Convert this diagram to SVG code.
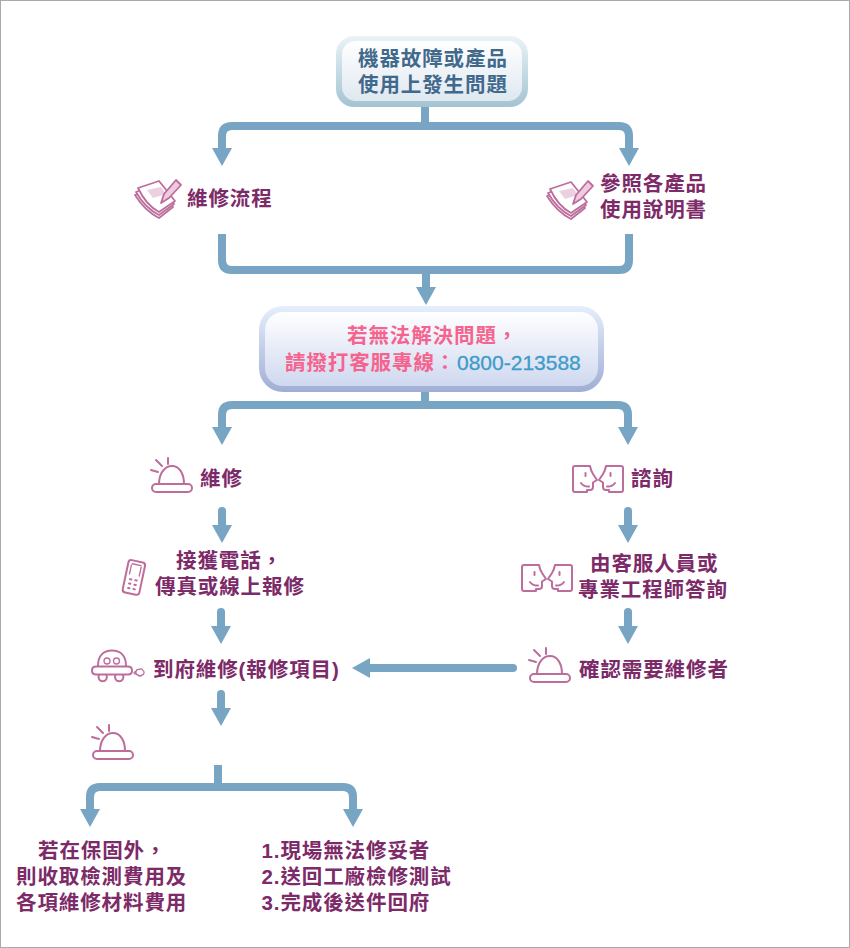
<svg xmlns="http://www.w3.org/2000/svg" xmlns:xlink="http://www.w3.org/1999/xlink" width="850" height="948" viewBox="0 0 850 948">
<style>
text{font-family:"Liberation Sans","Noto Sans CJK TC","Noto Sans CJK SC",sans-serif;font-size:20.500px;font-weight:700;letter-spacing:.9px}
.p{fill:#7d2a69}
.b{fill:#41698c}
.k{fill:#f5648e}
.n{fill:#3d9cc8;font-family:"Liberation Sans",sans-serif;font-size:21px;font-weight:400;letter-spacing:0;stroke:#3d9cc8;stroke-width:.3px}
.c{fill:none;stroke:#77a5c3;stroke-width:8;marker-end:url(#h)}
.l{fill:none;stroke:#77a5c3;stroke-width:8}
.r{stroke-linecap:round}
.i{fill:none;stroke:#bd6d9c;stroke-width:2;stroke-linejoin:round;stroke-linecap:round}
.t{fill:none;stroke:#bd6d9c;stroke-width:1.300;stroke-linejoin:round;stroke-linecap:round}
.f{fill:#fff;stroke:#bd6d9c;stroke-width:1.800;stroke-linejoin:round}
</style>
<defs>
<linearGradient id="g1o" x1="0" y1="0" x2="0" y2="1"><stop offset="0" stop-color="#eaf3f7"/><stop offset="1" stop-color="#a3c3d2"/></linearGradient>
<linearGradient id="g1i" x1="0" y1="0" x2="0" y2="1"><stop offset="0" stop-color="#fff"/><stop offset="1" stop-color="#dfe8f0"/></linearGradient>
<linearGradient id="g2o" x1="0" y1="0" x2="0" y2="1"><stop offset="0" stop-color="#e4eefc"/><stop offset="1" stop-color="#a0aed4"/></linearGradient>
<linearGradient id="g2i" x1="0" y1="0" x2="0" y2="1"><stop offset="0" stop-color="#fff"/><stop offset="1" stop-color="#cfd8f0"/></linearGradient>
<marker id="h" markerUnits="userSpaceOnUse" viewBox="0 -10 18 20" refX="0" refY="0" markerWidth="18" markerHeight="20" orient="auto"><path d="M0-10L18 0L0 10Z" fill="#77a5c3"/></marker>
<g id="bell"><rect class="i" x="1" y="1" width="40" height="8" rx="4"/><path class="i" d="M8 1C8-10 14-17 21-17C28-17 33-10 33 1M17-25V-19M5-23L11-17M0-13L7-11"/></g>
<g id="pad"><path class="f" d="M2 18L27 8L40 30L26 41Q12 34 2 18Z"/><path class="f" d="M3 15L27 6L41 27L26 38Q12 31 3 15Z"/><path class="f" d="M5 11L26 4L42 24L26 35Q13 28 5 11Z"/><path d="M14 13L28 10L33 17L20 21Z" fill="#ecd0e1"/><path class="f" d="M28 26L31 17L43 3L48 8L36 21Z" style="fill:#eecbdf"/></g>
<g id="face"><path class="i" d="M2 0H17Q18 5 20 8L24 14L20 16.500V21Q20 24 17 24H14V26H2Q0 26 0 24V2Q0 0 2 0Z"/><path class="i" d="M12.500 7V10M8 17Q11 21 16 20.500"/></g>
<g id="faces"><use xlink:href="#face" href="#face"/><use xlink:href="#face" href="#face" transform="translate(50 0) scale(-1 1)"/></g>
</defs>
<rect x="0.500" y="0.500" width="849" height="947" fill="#fff" stroke="#aaa"/>
<g id="connectors">
<path class="l" d="M425 107V126"/>
<path class="c" d="M425 126H232Q222 126 222 136V148"/>
<path class="c" d="M425 126H619Q629 126 629 136V148"/>
<path class="l" d="M222 234V260Q222 270 232 270H619Q629 270 629 260V234"/>
<path class="c" d="M426 270V287"/>
<path class="l" d="M425 392V405"/>
<path class="c" d="M425 405H232Q222 405 222 415V427"/>
<path class="c" d="M425 405H618Q628 405 628 415V427"/>
<path class="c r" d="M222 511V525"/>
<path class="c r" d="M221 612V626"/>
<path class="c r" d="M221 694V708"/>
<path class="c r" d="M628 511V525"/>
<path class="c r" d="M628 612V626"/>
<path class="c r" d="M513 668H370"/>
<path class="l" d="M218 765V787"/>
<path class="c" d="M218 787H100Q90 787 90 797V809"/>
<path class="c" d="M218 787H343Q353 787 353 797V809"/>
</g>
<g id="node-problem">
<rect x="336" y="36" width="192" height="71" rx="18" fill="url(#g1o)"/>
<rect x="342" y="41" width="180" height="60" rx="14" fill="url(#g1i)"/>
<text class="b" y="65.500"><tspan x="358">機器故障或產品</tspan><tspan x="358" dy="26">使用上發生問題</tspan></text>
</g>
<g id="node-flow"><use xlink:href="#pad" href="#pad" x="133" y="177"/><text class="p" x="187" y="205.500">維修流程</text></g>
<g id="node-manual"><use xlink:href="#pad" href="#pad" x="545" y="178"/><text class="p" y="191"><tspan x="600">參照各產品</tspan><tspan x="600" dy="26">使用說明書</tspan></text></g>
<g id="node-hotline">
<rect x="259" y="306" width="345" height="86" rx="24" fill="url(#g2o)"/>
<rect x="265" y="312" width="333" height="74" rx="18" fill="url(#g2i)"/>
<text class="k" y="343"><tspan x="347">若無法解決問題，</tspan><tspan x="285" dy="27">請撥打客服專線：</tspan><tspan class="n" x="457">0800-213588</tspan></text>
</g>
<g id="node-repair"><use xlink:href="#bell" href="#bell" x="151" y="483"/><text class="p" x="200" y="485.500">維修</text></g>
<g id="node-consult"><use xlink:href="#faces" href="#faces" x="573" y="466"/><text class="p" x="631" y="485.500">諮詢</text></g>
<g id="node-call">
<g transform="translate(129 559.500) rotate(12)"><rect class="i" x="0" y="0" width="17" height="33" rx="3"/><path class="t" d="M4 3.500H13M3.500 5V14M13.500 5V14"/><path class="i" d="M5 19H6.500M10.500 19H12M5 23.500H6.500M10.500 23.500H12M5 28H6.500M10.500 28H12"/></g>
<text class="p" y="567.500"><tspan x="176">接獲電話，</tspan><tspan x="155" dy="26">傳真或線上報修</tspan></text>
</g>
<g id="node-staff"><use xlink:href="#faces" href="#faces" x="522" y="565"/><text class="p" y="570.500"><tspan x="590">由客服人員或</tspan><tspan x="578" dy="26">專業工程師答詢</tspan></text></g>
<g id="node-onsite">
<path class="i" d="M98 666C98 655 104 650.500 112 650.500C120 650.500 126 655 126 666"/>
<path class="i" d="M96 666.500H128Q132 666.500 132 670.500Q132 674.500 128 674.500H96Q92 674.500 92 670.500Q92 666.500 96 666.500Z"/>
<circle class="t" cx="107" cy="661" r="3"/><circle class="t" cx="116.500" cy="661" r="3"/>
<path class="i" d="M99 675a4.200 4.200 0 1 0 7.400 0M115.500 675a4.200 4.200 0 1 0 7.400 0"/>
<path class="t" d="M135 672a1 1 0 1 0 .1 0M139 669.500a2.500 2.500 0 0 1 4 1a2.500 2.500 0 0 1 -1 4.500a2.500 2.500 0 0 1 -4 0a2.800 2.800 0 0 1 1 -5.500Z"/>
<text class="p" x="153" y="676.500">到府維修(報修項目)</text>
</g>
<g id="node-confirm"><use xlink:href="#bell" href="#bell" x="529" y="673"/><text class="p" x="579" y="676.500">確認需要維修者</text></g>
<g id="node-bell"><use xlink:href="#bell" href="#bell" x="92" y="750"/></g>
<g id="node-warranty"><text class="p" y="857.500"><tspan x="38">若在保固外，</tspan><tspan x="16" dy="26">則收取檢測費用及</tspan><tspan x="16" dy="26">各項維修材料費用</tspan></text></g>
<g id="node-steps"><text class="p" y="857.500"><tspan x="261.500">1.現場無法修妥者</tspan><tspan x="261.500" dy="26">2.送回工廠檢修測試</tspan><tspan x="261.500" dy="26">3.完成後送件回府</tspan></text></g>
</svg>
